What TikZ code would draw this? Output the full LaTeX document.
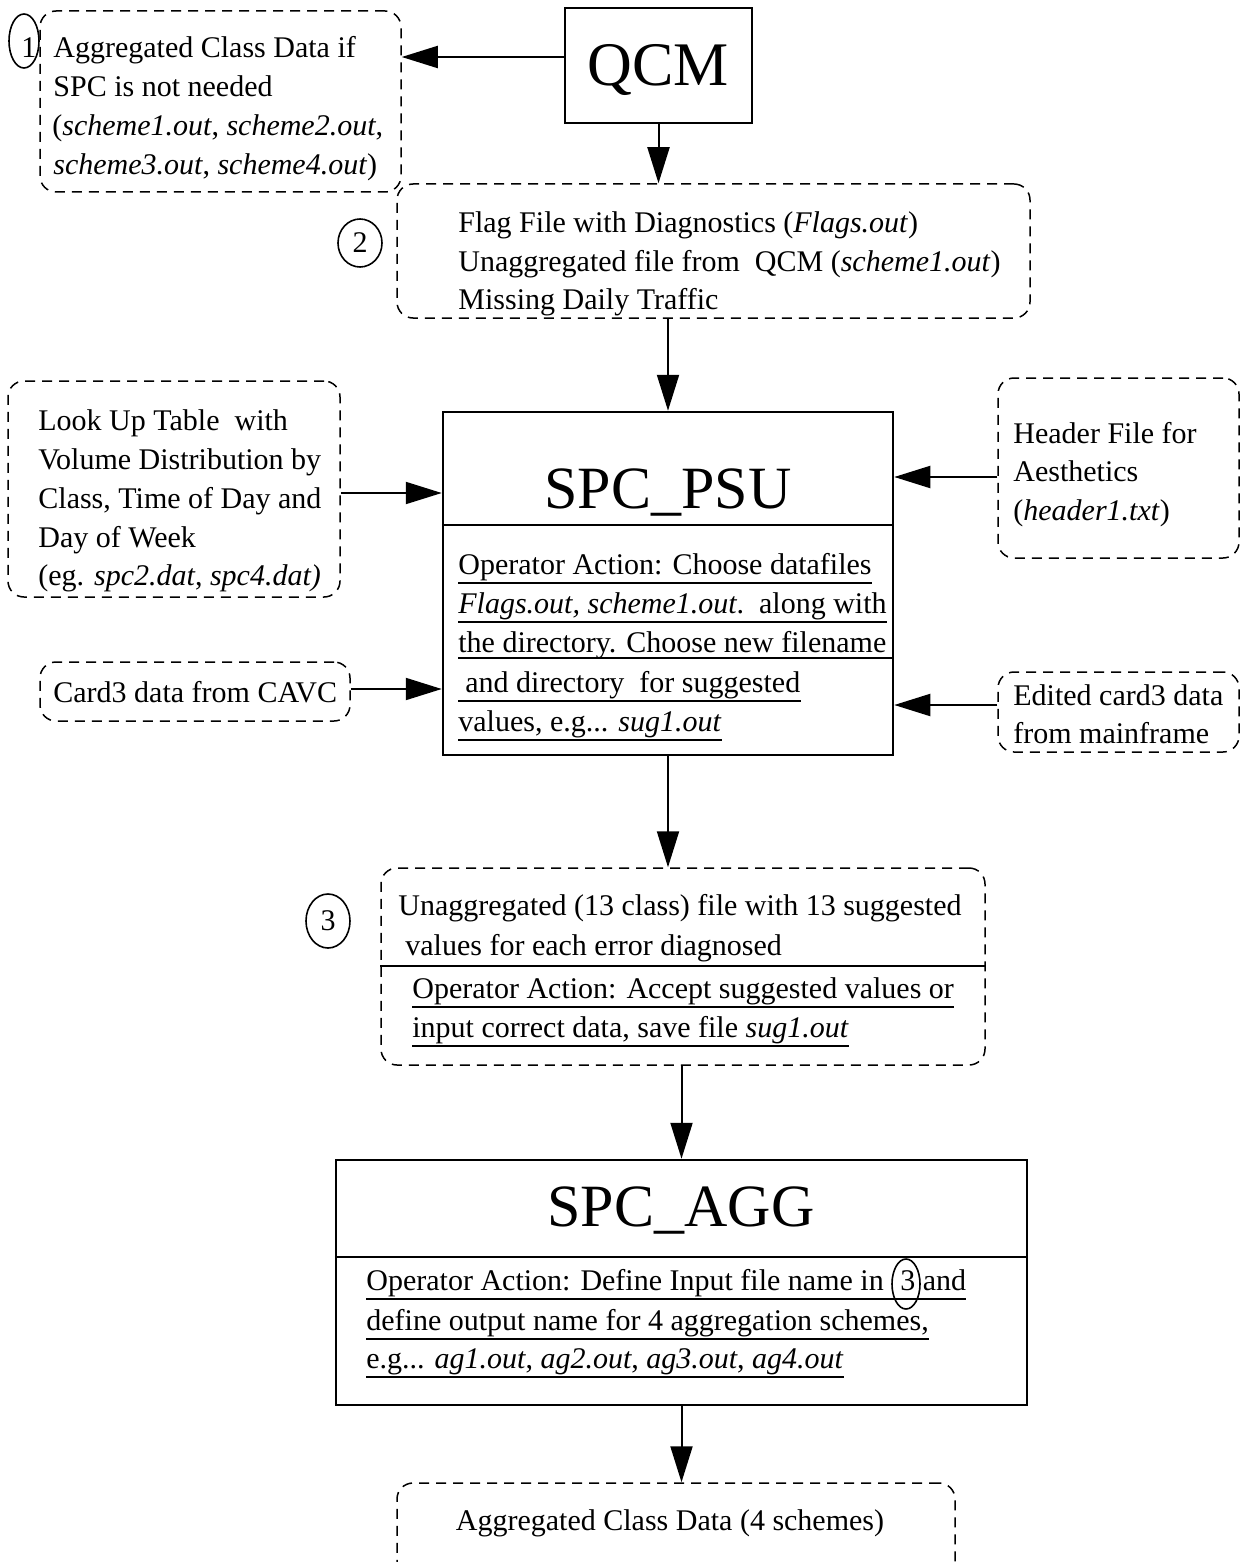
\documentclass[tikz,border=0pt]{standalone}
\usepackage{fontspec}
\setmainfont{Liberation Serif}
\usetikzlibrary{arrows.meta,fit,calc,shapes.geometric}
\tikzset{
  dbox/.style={draw, dash pattern=on 5pt off 3.5pt, line width=0.75pt, rounded corners=8pt, inner sep=0pt},
  sbox/.style={draw, line width=1.25pt, inner sep=0pt},
  txt/.style={anchor=base west, inner sep=0pt, font=\fontsize{15pt}{18pt}\selectfont},
  title/.style={anchor=base, inner sep=0pt, font=\fontsize{30pt}{36pt}\selectfont},
  arr/.style={line width=1pt, -{Triangle[length=18pt,width=11pt]}},
  circ/.style={draw, ellipse, line width=0.8pt, inner sep=0pt, font=\fontsize{15pt}{18pt}\selectfont},
  ulline/.style={line width=0.9pt}
}
\newcommand{\ULn}[1]{\draw[ulline] ([yshift=-4.5pt]#1.base west) -- ([yshift=-4.5pt]#1.base east);}
\begin{document}
\begin{tikzpicture}[x=0.5pt,y=-0.5pt]
\useasboundingbox (0,0) rectangle (1241,1562);

% ---------- boxes ----------
\node[sbox, fit={(565,8)(752,123)}] (qcm) {};
\node[dbox, fit={(40,11)(401,192)}] (b1) {};
\node[dbox, fit={(397,184)(1030,318)}] (b2) {};
\node[dbox, fit={(8,381)(340,597)}] (lut) {};
\node[dbox, fit={(40,662)(350,721)}] (card) {};
\node[sbox, fit={(443,412)(893,755)}] (psu) {};
\node[dbox, fit={(998,378)(1239,558)}] (hdr) {};
\node[dbox, fit={(998,672)(1239,752)}] (edit) {};
\node[dbox, fit={(381,868)(985,1065)}] (b3) {};
\node[sbox, fit={(336,1160)(1027,1405)}] (agg) {};
\node[dbox, fit={(397,1483)(955,1620)}] (b5) {};

% ---------- helper coordinates ----------
\coordinate (y57) at (0,57);
\coordinate (y493) at (0,493);
\coordinate (y689) at (0,689);
\coordinate (y477) at (0,477);
\coordinate (y705) at (0,705);
\coordinate (ypsudiv) at (0,525);
\coordinate (yaggdiv) at (0,1257);
\coordinate (yb3div) at (0,966);

% ---------- dividers ----------
\draw[line width=1.25pt] (psu.west |- ypsudiv) -- (psu.east |- ypsudiv);
\draw[line width=1.25pt] (agg.west |- yaggdiv) -- (agg.east |- yaggdiv);
\draw[line width=1.1pt] (b3.west |- yb3div) -- (b3.east |- yb3div);

% ---------- titles ----------
\node[title, font=\fontsize{31pt}{36pt}\selectfont] (tq) at (658,86) {QCM};
\node[title] (tpsu) at (668,508) {SPC\_PSU};
\node[title] (tagg) at (681,1226) {SPC\_AGG};

% ---------- circled numbers ----------
\node[circ, minimum width=15pt, minimum height=27pt] (c1) at (24,41) {};
\node[txt] (c1t) at (21,58) {1};
\node[circ, minimum width=22pt, minimum height=24pt] (c2) at (360,243) {2};
\node[circ, minimum width=22pt, minimum height=27pt] (c3) at (328,921) {3};

% ---------- box 1 ----------
\node[txt] (t1a) at (53,58)  {Aggregated Class Data if};
\node[txt] (t1b) at (53,97)  {SPC is not needed};
\node[txt] (t1c) at (52,136) {(\textit{scheme1.out}, \textit{scheme2.out},};
\node[txt] (t1d) at (53,175) {\textit{scheme3.out}, \textit{scheme4.out})};

% ---------- box 2 ----------
\node[txt] (t2a) at (458,233) {Flag File with Diagnostics (\textit{Flags.out})};
\node[txt] (t2b) at (458,271) {Unaggregated file from\ \ QCM (\textit{scheme1.out})};
\node[txt] (t2c) at (458,309) {Missing Daily Traffic};

% ---------- look up table ----------
\node[txt] (tla) at (38,430) {Look Up Table\ \ with};
\node[txt] (tlb) at (38,469) {Volume Distribution by};
\node[txt] (tlc) at (38,508) {Class, Time of Day and};
\node[txt] (tld) at (38,547) {Day of Week};
\node[txt] (tle) at (38,585) {(eg. \textit{spc2.dat}, \textit{spc4.dat)}};

% ---------- card3 ----------
\node[txt] (tca) at (53,702) {Card3 data from CAVC};

% ---------- header ----------
\node[txt] (tha) at (1013,443) {Header File for};
\node[txt] (thb) at (1013,481) {Aesthetics};
\node[txt] (thc) at (1013,520) {(\textit{header1.txt})};

% ---------- edited ----------
\node[txt] (tea) at (1013,705) {Edited card3 data};
\node[txt] (teb) at (1013,743) {from mainframe};

% ---------- SPC_PSU operator text ----------
\node[txt] (p1) at (458,574) {Operator Action: Choose datafiles};
\node[txt] (p2) at (458,613) {\textit{Flags.out, scheme1.out}.\ \ along with};
\node[txt] (p3) at (458,652) {the directory. Choose new filename};
\node[txt] (p4) at (458,692) {\hspace*{3.5pt}and directory\ \ for suggested};
\node[txt] (p5) at (458,731) {values, e.g... \textit{sug1.out}};
\ULn{p1}\ULn{p2}\ULn{p4}\ULn{p5}
\coordinate (u3) at ([yshift=-3pt]p3.base west);
\draw[ulline] (u3) -- (u3 -| psu.east);

% ---------- box 3 ----------
\node[txt] (s1) at (398,915) {Unaggregated (13 class) file with 13 suggested};
\node[txt] (s2) at (398,955) {\hspace*{3.5pt}values for each error diagnosed};
\node[txt] (s3) at (412,998) {Operator Action: Accept suggested values or};
\node[txt] (s4) at (412,1037) {input correct data, save file \textit{sug1.out}};
\ULn{s3}\ULn{s4}

% ---------- SPC_AGG operator text ----------
\node[txt] (g1) at (366,1290) {Operator Action: Define Input file name in\hspace{4.5pt} 3\ and};
\node[txt] (g2) at (366,1330) {define output name for 4 aggregation schemes,\ };
\node[txt] (g3) at (366,1368) {e.g... \textit{ag1.out}, \textit{ag2.out}, \textit{ag3.out}, \textit{ag4.out}};
\ULn{g1}\ULn{g2}\ULn{g3}
\node[circ, minimum width=14pt, minimum height=25pt] (c3b) at (906,1284) {};

% ---------- bottom ----------
\node[txt, anchor=base] (tb) at (670,1530) {Aggregated Class Data (4 schemes)};

% ---------- connectors ----------
\draw[arr] (qcm.west |- y57) -- (b1.east |- y57);
\draw[arr] (qcm.south) -- (b2.north -| qcm.south);
\draw[arr] (b2.south -| psu.north) -- (psu.north);
\draw[arr] (lut.east |- y493) -- (psu.west |- y493);
\draw[arr] (card.east |- y689) -- (psu.west |- y689);
\draw[arr] (hdr.west |- y477) -- (psu.east |- y477);
\draw[arr] (edit.west |- y705) -- (psu.east |- y705);
\draw[arr] (psu.south) -- (b3.north -| psu.south);
\draw[arr] (b3.south -| agg.north) -- (agg.north);
\draw[arr] (agg.south) -- (b5.north -| agg.south);
\end{tikzpicture}
\end{document}
